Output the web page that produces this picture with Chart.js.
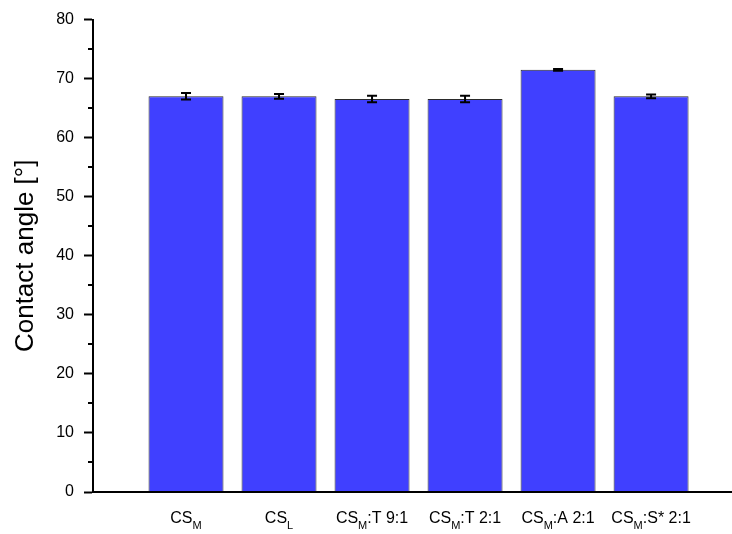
<!DOCTYPE html>
<html>
<head>
<meta charset="utf-8">
<script src="https://cdn.jsdelivr.net/npm/chart.js@4/dist/chart.umd.min.js"></script>
<style>
  html, body { margin: 0; padding: 0; background: #fff; overflow: hidden; }
  #wrap { width: 732px; height: 534px; position: relative; }
  #wrap canvas { display: block; }
</style>
</head>
<body>
<div id="wrap"><canvas id="chart"></canvas></div>
<script>
// "_X" marks a one-letter subscript
const categories = ['CS_M', 'CS_L', 'CS_M:T 9:1', 'CS_M:T 2:1', 'CS_M:A 2:1', 'CS_M:S* 2:1'];
const angles     = [67.0, 67.0, 66.55, 66.55, 71.5, 67.0];
const errors     = [0.55, 0.4, 0.55, 0.55, 0.15, 0.3];
const yTicks     = [0, 10, 20, 30, 40, 50, 60, 70, 80];
const yMinor     = [5, 15, 25, 35, 45, 55, 65, 75];

const FONT = "'Liberation Sans', Arial, sans-serif";

const positions = categories.map((_, i) => i + 1);

// split "CS_M:T 9:1" into [{t:'CS'},{t:'M',sub:true},{t:':T 9:1'}]
function parts(label) {
  const out = [];
  const re = /_(\w)/g;
  let last = 0, m;
  while ((m = re.exec(label))) {
    if (m.index > last) out.push({ t: label.slice(last, m.index) });
    out.push({ t: m[1], sub: true });
    last = re.lastIndex;
  }
  if (last < label.length) out.push({ t: label.slice(last) });
  return out;
}

const errorBars = {
  id: 'errorBars',
  afterDatasetsDraw(chart) {
    const { ctx, scales: { x, y } } = chart;
    ctx.save();
    ctx.strokeStyle = '#000';
    ctx.lineWidth = 2;
    angles.forEach((v, i) => {
      const px = x.getPixelForValue(positions[i]);
      const top = y.getPixelForValue(v + errors[i]);
      const bot = y.getPixelForValue(v - errors[i]);
      ctx.beginPath();
      ctx.moveTo(px, top); ctx.lineTo(px, bot);
      ctx.moveTo(px - 5, top); ctx.lineTo(px + 5, top);
      ctx.moveTo(px - 5, bot); ctx.lineTo(px + 5, bot);
      ctx.stroke();
    });
    ctx.restore();
  }
};

const axisExtras = {
  id: 'axisExtras',
  afterDraw(chart) {
    const { ctx, scales: { x, y } } = chart;
    ctx.save();
    ctx.strokeStyle = '#000';
    ctx.lineWidth = 2;
    // x axis runs to the canvas edge
    const by = Math.round(y.bottom);
    ctx.beginPath();
    ctx.moveTo(x.left, by);
    ctx.lineTo(chart.width, by);
    ctx.stroke();
    // minor ticks on y
    yMinor.forEach(v => {
      const py = Math.round(y.getPixelForValue(v));
      ctx.beginPath();
      ctx.moveTo(x.left - 5, py);
      ctx.lineTo(x.left, py);
      ctx.stroke();
    });
    // category labels with subscripts
    ctx.fillStyle = '#000';
    ctx.textBaseline = 'alphabetic';
    ctx.textAlign = 'left';
    const base = 523;
    categories.forEach((label, i) => {
      const ps = parts(label);
      let w = 0;
      ps.forEach(p => {
        ctx.font = (p.sub ? '11px ' : '16px ') + FONT;
        p.w = ctx.measureText(p.t).width;
        w += p.w;
      });
      let cx = x.getPixelForValue(positions[i]) - w / 2;
      ps.forEach(p => {
        ctx.font = (p.sub ? '11px ' : '16px ') + FONT;
        ctx.fillText(p.t, cx, p.sub ? base + 6 : base);
        cx += p.w;
      });
    });
    ctx.restore();
  }
};

new Chart(document.getElementById('chart'), {
  type: 'bar',
  data: {
    datasets: [{
      data: positions.map((p, i) => ({ x: p, y: angles[i] })),
      backgroundColor: '#4040FF',
      borderColor: '#2a2a2a',
      borderWidth: 1,
      borderSkipped: 'bottom',
      barPercentage: 0.806,
      categoryPercentage: 1,
    }],
  },
  options: {
    responsive: true,
    maintainAspectRatio: false,
    animation: false,
    layout: { padding: { top: 15, right: 0, left: 0, bottom: 0 } },
    plugins: {
      legend: { display: false },
      tooltip: { enabled: false },
    },
    scales: {
      x: {
        type: 'linear',
        offset: false,
        min: 0,
        max: 6.87,
        afterBuildTicks: (s) => { s.ticks = positions.map(v => ({ value: v })); },
        grid: { display: true, drawOnChartArea: false, drawTicks: false },
        border: { display: true, color: '#000', width: 2 },
        ticks: { display: false },
        afterFit: (s) => { s.height = 42; },
      },
      y: {
        min: 0,
        max: 80,
        afterBuildTicks: (s) => { s.ticks = yTicks.map(v => ({ value: v })); },
        grid: { drawOnChartArea: false, drawTicks: true, tickLength: 9, tickColor: '#000', tickWidth: 2 },
        border: { display: true, color: '#000', width: 2 },
        ticks: { color: '#000', padding: 10, font: { family: FONT, size: 16 } },
        title: {
          display: true,
          text: 'Contact angle [°]',
          color: '#000',
          font: { family: FONT, size: 26 },
          padding: { top: 10, bottom: 0 },
        },
        afterFit: (s) => { s.width = 93; },
      },
    },
  },
  plugins: [errorBars, axisExtras],
});
</script>
</body>
</html>
